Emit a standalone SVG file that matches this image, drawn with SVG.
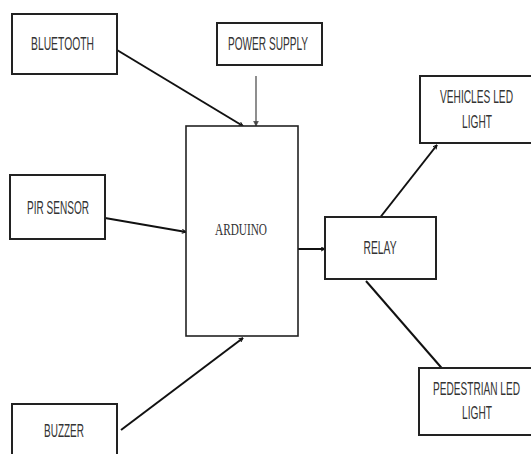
<svg xmlns="http://www.w3.org/2000/svg" width="531" height="454" viewBox="0 0 531 454">
<style>
.box{fill:#fff;stroke:#222;stroke-width:2}
.t{font-family:"Liberation Sans",Arial,sans-serif;font-size:17.5px;fill:#333;text-anchor:middle}
.s{font-family:"Liberation Serif","Times New Roman",serif;font-size:17px;fill:#333;text-anchor:middle}
.c{fill:none;stroke:#111;stroke-width:2}
.thin{fill:none;stroke:#444;stroke-width:1.2}
</style>
<defs>
<marker id="ah" viewBox="0 0 10 10" refX="9" refY="5" markerWidth="5" markerHeight="5" markerUnits="userSpaceOnUse" orient="auto">
<path d="M1,1 L9,5 L1,9" fill="none" stroke="#111" stroke-width="2"/>
</marker>
<marker id="ah2" viewBox="0 0 10 10" refX="9" refY="5" markerWidth="6" markerHeight="6" markerUnits="userSpaceOnUse" orient="auto">
<path d="M1,1 L9,5 L1,9 Z" fill="#444" stroke="#444" stroke-width="1"/>
</marker>
</defs>
<rect width="531" height="454" fill="#fff"/>
<g id="connectors">
<line class="c" x1="117" y1="50" x2="243" y2="126" marker-end="url(#ah)"/>
<line class="thin" x1="256" y1="76" x2="256" y2="126" marker-end="url(#ah2)"/>
<line class="c" x1="105" y1="218" x2="186" y2="232" marker-end="url(#ah)"/>
<line class="c" x1="121" y1="430" x2="243" y2="338" marker-end="url(#ah)"/>
<line class="c" x1="298" y1="249" x2="325" y2="249" marker-end="url(#ah)"/>
<line class="c" x1="375" y1="224" x2="437" y2="145" marker-end="url(#ah)"/>
<line class="c" x1="366" y1="281" x2="446" y2="373" marker-end="url(#ah)"/>
</g>
<g id="bluetooth">
<rect class="box" x="12" y="14" width="105" height="60"/>
<text class="t" transform="translate(62.5,50) scale(0.58,1)" textLength="108.6" lengthAdjust="spacingAndGlyphs">BLUETOOTH</text>
</g>
<g id="power-supply">
<rect class="box" x="217" y="23" width="105" height="42"/>
<text class="t" transform="translate(268,50) scale(0.58,1)" textLength="137.9" lengthAdjust="spacingAndGlyphs">POWER SUPPLY</text>
</g>
<g id="pir-sensor">
<rect class="box" x="10" y="175" width="95" height="64"/>
<text class="t" transform="translate(58,214) scale(0.58,1)" textLength="106.9" lengthAdjust="spacingAndGlyphs">PIR SENSOR</text>
</g>
<g id="arduino">
<rect class="box" x="186" y="126" width="112" height="210" style="stroke-width:1.6"/>
<text class="s" transform="translate(241,235) scale(0.667,1)" textLength="78" lengthAdjust="spacingAndGlyphs">ARDUINO</text>
</g>
<g id="buzzer">
<rect class="box" x="12" y="404" width="105" height="60"/>
<text class="t" transform="translate(64,437) scale(0.58,1)" textLength="69" lengthAdjust="spacingAndGlyphs">BUZZER</text>
</g>
<g id="relay">
<rect class="box" x="325" y="217" width="111" height="62"/>
<text class="t" transform="translate(380,254) scale(0.58,1)" textLength="56.9" lengthAdjust="spacingAndGlyphs">RELAY</text>
</g>
<g id="vehicles-led">
<rect class="box" x="420" y="76" width="120" height="67"/>
<text class="t" transform="translate(476.5,103) scale(0.58,1)" textLength="125.9" lengthAdjust="spacingAndGlyphs">VEHICLES LED</text>
<text class="t" transform="translate(477,128) scale(0.58,1)" textLength="51.7" lengthAdjust="spacingAndGlyphs">LIGHT</text>
</g>
<g id="pedestrian-led">
<rect class="box" x="419" y="368" width="121" height="67"/>
<text class="t" transform="translate(476.5,395) scale(0.58,1)" textLength="150" lengthAdjust="spacingAndGlyphs">PEDESTRIAN LED</text>
<text class="t" transform="translate(477,419) scale(0.58,1)" textLength="51.7" lengthAdjust="spacingAndGlyphs">LIGHT</text>
</g>
</svg>
